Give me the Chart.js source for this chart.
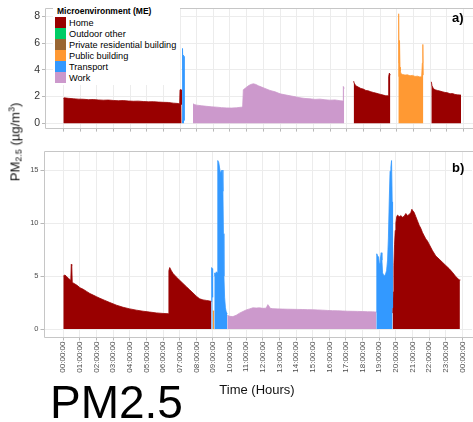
<!DOCTYPE html>
<html>
<head>
<meta charset="utf-8">
<script src="https://cdn.jsdelivr.net/npm/chart.js@4.4.0/dist/chart.umd.min.js"></script>
<style>
  html, body { margin:0; padding:0; background:#fff; }
  body { width:473px; height:422px; overflow:hidden; position:relative; font-family:"Liberation Sans", Arial, sans-serif; }
  .wrap { position:absolute; left:0; }
  #legend { position:absolute; left:53px; top:5px; background:#fff; padding:1px 4px 2px 2px; }
  #legend .ttl { font-weight:bold; font-size:8.5px; line-height:11px; padding-left:2px; color:#000; }
  #legend .row { display:flex; align-items:center; height:11px; }
  #legend .key { width:11px; height:10.5px; margin-right:3px; }
  #legend .lbl { font-size:9.2px; color:#000; white-space:nowrap; }
  .tag { position:absolute; font-weight:bold; font-size:13px; line-height:13px; color:#000; }
  #ytitle { position:absolute; left:15px; top:142px; transform:translate(-50%,-50%) rotate(-90deg); white-space:nowrap; font-size:13px; color:#111; }
  #ytitle sub { font-size:9px; vertical-align:-2px; }
  #ytitle sup { font-size:9px; vertical-align:5px; }
  #xtitle { position:absolute; left:257px; top:389px; transform:translate(-50%,-50%); font-size:13px; color:#111; white-space:nowrap; }
  #big { position:absolute; left:50px; top:379px; font-size:46px; line-height:46px; color:#000; white-space:nowrap; }
</style>
</head>
<body>
<div class="wrap" style="top:0;width:473px;height:140px"><canvas id="ca" width="473" height="140"></canvas></div>
<div class="wrap" style="top:140px;width:473px;height:282px"><canvas id="cb" width="473" height="282"></canvas></div>
<div id="legend"></div>
<div class="tag" style="left:452px;top:11px">a)</div>
<div class="tag" style="left:452px;top:161px">b)</div>
<div id="ytitle">PM<sub>2.5</sub> (µg/m<sup>3</sup>)</div>
<div id="xtitle">Time (Hours)</div>
<div id="big">PM2.5</div>
<script>
// ---------- categories / labels ----------
const meNames = ['Home', 'Outdoor other', 'Private residential building', 'Public building', 'Transport', 'Work'];
const meColors = ['#990000', '#00CC66', '#996633', '#FF9933', '#3399FF', '#CC99CC'];
const hourTicks = [0,1,2,3,4,5,6,7,8,9,10,11,12,13,14,15,16,17,18,19,20,21,22,23,24];
const hourLabels = ['00:00:00','01:00:00','02:00:00','03:00:00','04:00:00','05:00:00','06:00:00','07:00:00',
  '08:00:00','09:00:00','10:00:00','11:00:00','12:00:00','13:00:00','14:00:00','15:00:00','16:00:00',
  '17:00:00','18:00:00','19:00:00','20:00:00','21:00:00','22:00:00','23:00:00','00:00:00'];
const aYTicks = [0, 2, 4, 6, 8];
const bYTicks = [0, 5, 10, 15];

// ---------- panel a) series (time in hours, PM2.5 in µg/m3) ----------
const aHome1Time = [0.0,0.05,0.3,0.6,0.9,1.2,1.5,1.8,2.1,2.4,2.7,3.0,3.3,3.6,3.9,4.2,4.5,4.8,5.1,5.4,5.7,6.0,6.3,6.6,6.9,6.98,7.0,7.06,7.08,7.1];
const aHome1Pm   = [1.85,1.9,1.86,1.83,1.8,1.79,1.76,1.77,1.74,1.72,1.73,1.7,1.68,1.69,1.66,1.64,1.65,1.62,1.6,1.61,1.58,1.56,1.55,1.5,1.47,1.45,2.5,2.5,1.45,1.4];
const aTransTime = [7.12,7.13,7.17,7.18,7.2,7.24,7.25];
const aTransPm   = [0.2,5.6,5.6,4.0,5.1,5.0,0.2];
const aWorkTime  = [7.78,7.85,8.0,8.3,8.6,8.9,9.2,9.5,9.8,10.1,10.4,10.7,10.76,10.8,10.95,11.1,11.25,11.4,11.55,11.7,11.9,12.1,12.4,12.7,13.0,13.3,13.6,13.9,14.2,14.5,14.8,15.1,15.4,15.7,16.0,16.3,16.6,16.78,16.8,16.85];
const aWorkPm    = [1.45,1.4,1.35,1.3,1.26,1.22,1.2,1.16,1.14,1.13,1.15,1.2,1.25,2.5,2.65,2.8,2.9,2.95,2.9,2.8,2.7,2.6,2.45,2.35,2.2,2.12,2.05,1.98,1.9,1.85,1.82,1.78,1.8,1.75,1.72,1.74,1.68,1.66,2.75,2.6];
const aHome2Time = [17.42,17.45,17.55,17.7,17.85,18.0,18.15,18.3,18.45,18.6,18.75,18.9,19.05,19.2,19.35,19.48,19.52,19.56,19.62];
const aHome2Pm   = [3.15,3.0,2.8,2.7,2.6,2.55,2.45,2.42,2.35,2.3,2.25,2.2,2.15,2.1,2.05,2.05,3.5,3.75,3.6];
const aPublicTime = [20.1,20.12,20.14,20.17,20.2,20.22,20.26,20.35,20.5,20.65,20.8,20.95,21.1,21.25,21.4,21.5,21.54,21.57,21.6];
const aPublicPm   = [3.5,8.2,4.5,6.2,4.2,3.9,3.7,3.65,3.6,3.62,3.55,3.58,3.5,3.52,3.45,3.5,4.5,5.9,3.6];
const aHome3Time = [22.08,22.12,22.2,22.3,22.45,22.6,22.75,22.9,23.05,23.2,23.35,23.5,23.65,23.86];
const aHome3Pm   = [3.1,2.8,2.6,2.5,2.45,2.4,2.35,2.3,2.28,2.2,2.22,2.15,2.12,2.1];

// ---------- panel b) series ----------
const bHome1Time = [0.0,0.1,0.2,0.3,0.45,0.48,0.51,0.54,0.7,0.85,1.0,1.2,1.4,1.6,1.8,2.0,2.2,2.5,2.8,3.2,3.6,4.0,4.4,4.8,5.2,5.6,6.0,6.3,6.35,6.4,6.5,6.6,6.8,7.0,7.2,7.4,7.6,7.8,8.0,8.2,8.4,8.6,8.8,8.9];
const bHome1Pm   = [5.0,5.1,4.95,4.8,4.6,6.1,6.0,4.4,4.25,4.1,3.9,3.75,3.55,3.35,3.2,3.05,2.9,2.7,2.5,2.25,2.05,1.9,1.78,1.68,1.6,1.52,1.47,1.45,5.5,5.8,5.5,5.25,4.9,4.6,4.3,4.0,3.7,3.4,3.1,2.85,2.75,2.7,2.65,2.6];
const bTrans1Time = [8.9,8.92,8.95,8.98];
const bTrans1Pm   = [2.6,5.8,5.7,3.0];
const bPublicTime = [8.98,9.08];
const bPublicPm   = [1.7,1.7];
const bTrans2Time = [9.08,9.1,9.15,9.2,9.25,9.28,9.3,9.35,9.4,9.45,9.5,9.55,9.6,9.63,9.66,9.7,9.75,9.8,9.86];
const bTrans2Pm   = [5.0,5.3,5.2,5.4,5.3,9.0,15.9,15.7,15.2,14.7,14.9,15.0,13.0,9.0,5.0,3.0,2.0,1.6,1.45];
const bWorkTime = [9.86,10.0,10.2,10.4,10.6,10.8,11.0,11.2,11.4,11.6,11.8,12.0,12.2,12.3,12.35,12.45,12.6,12.9,13.2,13.5,13.8,14.1,14.4,14.7,15.0,15.3,15.6,15.9,16.2,16.5,16.8,17.1,17.4,17.7,18.0,18.3,18.6,18.82];
const bWorkPm   = [1.3,1.2,1.17,1.3,1.5,1.65,1.8,1.9,2.0,1.98,2.0,1.95,1.97,2.3,2.2,1.95,1.92,1.9,1.88,1.87,1.86,1.85,1.84,1.83,1.82,1.8,1.78,1.75,1.73,1.72,1.7,1.68,1.67,1.66,1.65,1.63,1.62,1.6];
const bTrans3Time = [18.82,18.85,18.9,18.96,19.0,19.04,19.08,19.12,19.16,19.2,19.26,19.32,19.38,19.44,19.5,19.55,19.6,19.65,19.7,19.74,19.78,19.8];
const bTrans3Pm   = [1.6,7.1,6.9,6.8,6.2,5.9,6.8,7.2,6.5,5.3,5.1,5.0,5.2,5.5,6.5,8.6,12.0,14.9,15.3,15.9,12.0,2.0];
const bHome2Time = [19.8,19.84,19.88,19.92,19.96,20.0,20.05,20.1,20.2,20.3,20.4,20.5,20.6,20.7,20.8,20.9,20.96,21.0,21.1,21.2,21.3,21.4,21.5,21.6,21.7,21.8,21.9,22.0,22.2,22.4,22.6,22.8,23.0,23.2,23.4,23.6,23.8,23.85];
const bHome2Pm   = [1.5,3.5,6.0,8.0,9.3,10.0,10.6,10.75,10.6,10.7,10.55,10.65,10.9,10.7,10.8,11.0,11.3,11.2,11.0,10.6,10.2,9.8,9.5,9.1,8.8,8.5,8.3,8.0,7.4,6.9,6.6,6.3,6.0,5.7,5.35,4.95,4.65,4.6];

// ---------- build tables ----------
const panelA = [
  ['Home', aHome1Time, aHome1Pm], ['Transport', aTransTime, aTransPm], ['Work', aWorkTime, aWorkPm],
  ['Home', aHome2Time, aHome2Pm], ['Public building', aPublicTime, aPublicPm], ['Home', aHome3Time, aHome3Pm]
];
const panelB = [
  ['Home', bHome1Time, bHome1Pm], ['Transport', bTrans1Time, bTrans1Pm], ['Public building', bPublicTime, bPublicPm],
  ['Transport', bTrans2Time, bTrans2Pm], ['Work', bWorkTime, bWorkPm], ['Transport', bTrans3Time, bTrans3Pm],
  ['Home', bHome2Time, bHome2Pm]
];
function colorOf(me) { return meColors[meNames.indexOf(me)]; }
function toDatasets(panel) {
  return panel.map(([me, t, v]) => ({
    label: me,
    data: t.map((x, i) => ({ x: x, y: v[i] })),
    borderColor: colorOf(me),
    backgroundColor: colorOf(me),
    borderWidth: 0.8,
    fill: 'origin',
    pointRadius: 0,
    tension: 0
  }));
}

// legend (HTML)
const lg = document.getElementById('legend');
const ttl = document.createElement('div'); ttl.className = 'ttl'; ttl.textContent = 'Microenvironment (ME)'; lg.appendChild(ttl);
meNames.forEach((n, i) => {
  const r = document.createElement('div'); r.className = 'row';
  const k = document.createElement('div'); k.className = 'key'; k.style.background = meColors[i];
  const l = document.createElement('div'); l.className = 'lbl'; l.textContent = n;
  r.appendChild(k); r.appendChild(l); lg.appendChild(r);
});

const panelBorder = {
  id: 'panelBorder',
  beforeDatasetsDraw(chart) {
    const { ctx, chartArea: a } = chart;
    ctx.save();
    ctx.strokeStyle = '#c6c6c6';
    ctx.lineWidth = 1;
    ctx.beginPath();
    ctx.moveTo(a.right + 2, Math.round(a.top) + 0.5);
    ctx.lineTo(Math.round(a.left) + 0.5, Math.round(a.top) + 0.5);
    ctx.lineTo(Math.round(a.left) + 0.5, Math.round(a.bottom) - 0.5);
    ctx.lineTo(a.right + 2, Math.round(a.bottom) - 0.5);
    ctx.stroke();
    ctx.restore();
  }
};

function makeChart(id, panel, xMin, yMin, yMax, yTicks, showX, padTop, xAxisH, yAxisW, yFont, yColor) {
  return new Chart(document.getElementById(id), {
    type: 'line',
    data: { datasets: toDatasets(panel) },
    plugins: [panelBorder],
    options: {
      responsive: false, animation: false, devicePixelRatio: 1,
      layout: { padding: { top: padTop, left: 0, right: 0, bottom: 0 } },
      plugins: { legend: { display: false }, tooltip: { enabled: false } },
      scales: {
        x: {
          type: 'linear', min: xMin, max: 24.58,
          afterBuildTicks: s => { s.ticks = hourTicks.map(v => ({ value: v })); },
          afterFit: s => { s.height = xAxisH; },
          grid: { color: '#ececec', tickColor: '#b8b8b8', tickLength: 3, lineWidth: 1 },
          border: { display: false },
          ticks: {
            display: showX, autoSkip: false, maxRotation: 90, minRotation: 90, padding: 1,
            color: '#4d4d4d', font: { size: 8, family: 'Liberation Sans' },
            callback: v => hourLabels[hourTicks.indexOf(v)]
          }
        },
        y: {
          type: 'linear', min: yMin, max: yMax,
          afterBuildTicks: s => { s.ticks = yTicks.map(v => ({ value: v })); },
          afterFit: s => { s.width = yAxisW; },
          grid: { color: '#ececec', tickColor: '#b8b8b8', tickLength: 3, lineWidth: 1 },
          border: { display: false },
          ticks: { padding: 2, color: yColor, font: { size: yFont, family: 'Liberation Sans' } }
        }
      }
    }
  });
}

makeChart('ca', panelA, -1.1, -0.41, 8.61, aYTicks, false, 4.6, 11.4, 45, 10.5, '#333333');
makeChart('cb', panelB, -1.19, -0.8, 16.8, bYTicks, true, 11, 84.5, 43.5, 7.5, '#4d4d4d');
</script>
</body>
</html>
